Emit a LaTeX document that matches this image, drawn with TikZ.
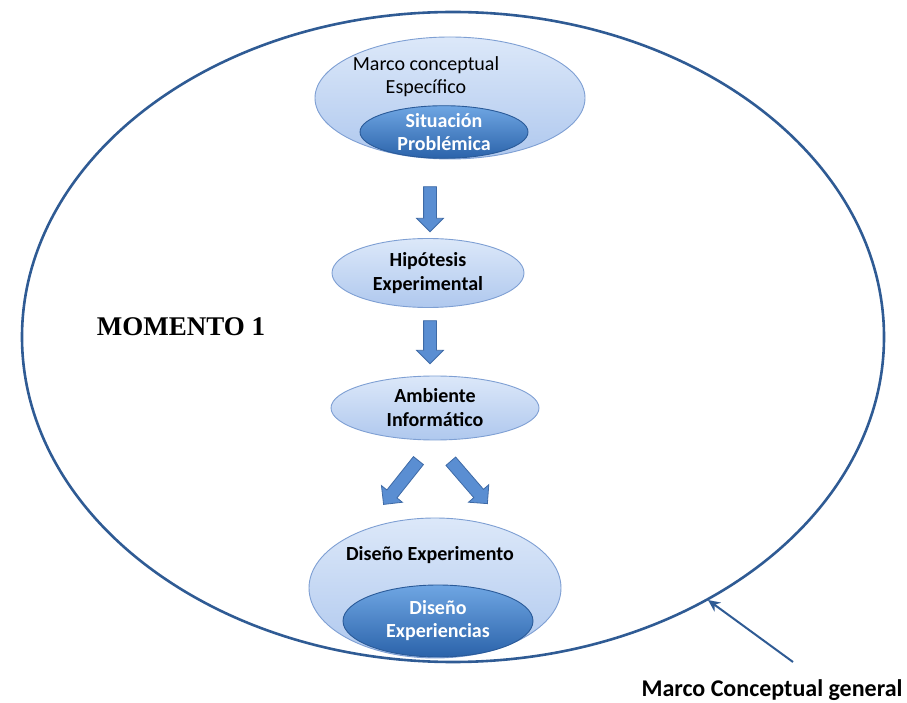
\documentclass[tikz,border=0pt]{standalone}
\usepackage{fontspec}
\setmainfont{Carlito}
\newfontfamily\timesfont{Liberation Serif}
\usetikzlibrary{shapes.geometric,shapes.arrows,calc,arrows.meta}
\definecolor{ringblue}{HTML}{2F5B94}
\definecolor{paletop}{HTML}{DCE8F9}
\definecolor{palebot}{HTML}{AFC8EE}
\definecolor{paleedge}{HTML}{7E9FD3}
\definecolor{deeptop}{HTML}{6FA6E3}
\definecolor{deepbot}{HTML}{2B63AA}
\definecolor{deepedge}{HTML}{2A5A98}
\definecolor{arrowfill}{HTML}{5A8ED2}
\definecolor{arrowedge}{HTML}{3E6AA6}
\tikzset{
  x=1pt, y=1pt,
  palebox/.style={ellipse, draw=paleedge, line width=0.9pt, top color=paletop,
    bottom color=palebot, inner sep=0pt, align=center, text=black},
  deepbox/.style={ellipse, draw=deepedge, line width=0.9pt, top color=deeptop,
    bottom color=deepbot, inner sep=0pt, align=center, text=white,
    font=\fontsize{20}{23}\selectfont\bfseries},
  blockarrow/.style={single arrow, draw=arrowedge, fill=arrowfill, line width=0.8pt,
    inner xsep=0pt, inner ysep=6pt, minimum width=26pt, single arrow head extend=7pt,
    single arrow head indent=0pt},
  boldlabel/.style={font=\fontsize{20}{24}\selectfont\bfseries},
}
\begin{document}
\begin{tikzpicture}
\useasboundingbox (0,0) rectangle (907,702);

% top group: specific framework with the problem situation inside
\node[palebox, minimum width=270pt, minimum height=122pt] (marco) at (450,604) {};
\node[font=\fontsize{20}{23}\selectfont, align=center] (marcotxt) at (426,625)
  {Marco conceptual\\Específico};
\node[deepbox, minimum width=168pt, minimum height=50pt] (sit) at (444,570)
  {Situación\\Problémica};

% middle steps
\node[palebox, boldlabel, minimum width=192pt, minimum height=69pt] (hip) at (428,429)
  {Hipótesis\\Experimental};
\node[palebox, boldlabel, minimum width=208pt, minimum height=64pt] (amb) at (435,294)
  {Ambiente\\Informático};

% bottom group: experiment design with the experiences inside
\node[palebox, minimum width=252pt, minimum height=140pt] (dis) at (435,114) {};
\node[boldlabel] (distxt) at (430,147) {Diseño Experimento};
\node[deepbox, minimum width=190pt, minimum height=72pt] (disexp) at (438,81)
  {Diseño\\Experiencias};

% block arrows between the steps
\node[blockarrow, minimum height=45pt, rotate=-90] (a1) at (430,496) {};
\node[blockarrow, minimum height=43pt, rotate=-90] (a2) at (430,363) {};
\node[blockarrow, minimum height=56pt, rotate=231.5] (a3) at (403,222) {};
\node[blockarrow, minimum height=56pt, rotate=-49.2] (a4) at (467,222) {};

% general framework ring
\node[ellipse, draw=ringblue, line width=2.6pt, minimum width=862pt,
  minimum height=650pt, inner sep=0pt] (ring) at (453,365) {};

\node[font=\timesfont\fontsize{27}{31}\selectfont\bfseries] (mom) at (181,375) {MOMENTO 1};

\coordinate (tail) at (793,40);
\coordinate (tip) at (708,102);
\draw[ringblue, line width=2pt, -{Stealth[length=12pt,width=11pt]}] (tail) -- (tip);
\node[font=\fontsize{24}{28}\selectfont\bfseries] (general) at (772,12) {Marco Conceptual general};
\end{tikzpicture}
\end{document}
